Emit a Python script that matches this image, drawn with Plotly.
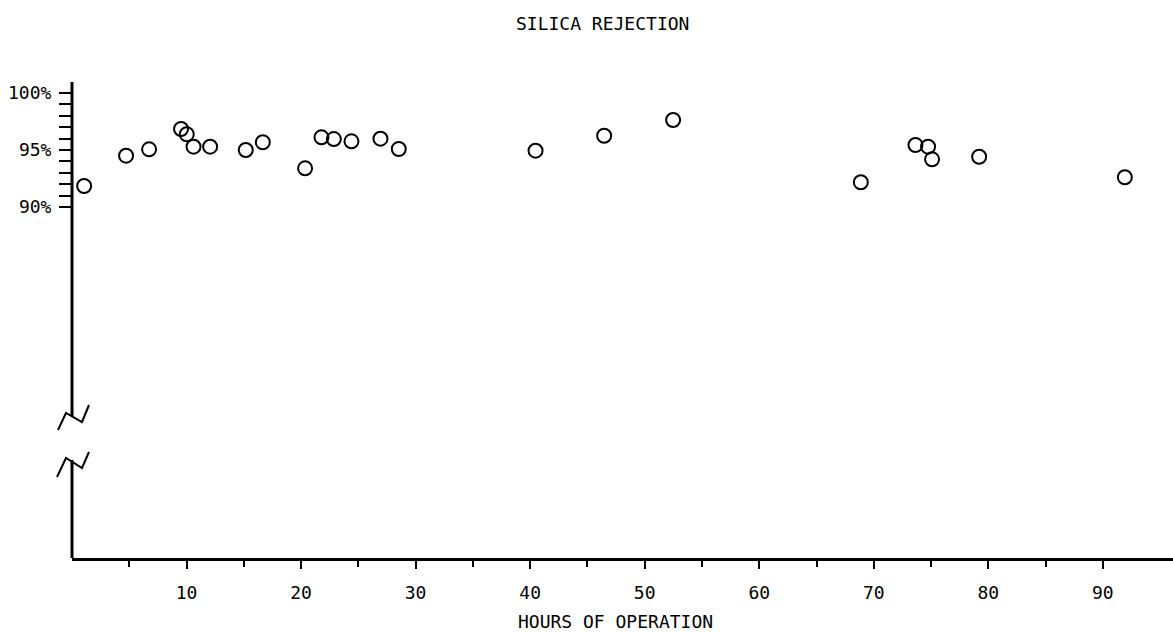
import plotly.graph_objects as go

# ---- data ----
hours = [1.06, 4.72, 6.73, 9.52, 10.02, 10.61, 12.06, 15.17, 16.66, 20.35,
         21.78, 22.86, 24.40, 26.93, 28.53, 40.47, 46.46, 52.48, 68.87, 73.64,
         74.74, 75.09, 79.20, 91.92]
rejection = [91.84, 94.50, 95.06, 96.84, 96.38, 95.29, 95.29, 95.00, 95.68, 93.39,
             96.11, 95.96, 95.76, 95.99, 95.09, 94.94, 96.25, 97.63, 92.17, 95.44,
             95.29, 94.18, 94.41, 92.61]

x_tick_vals = [10, 20, 30, 40, 50, 60, 70, 80, 90]
x_tick_text = ["10", "20", "30", "40", "50", "60", "70", "80", "90"]
x_minor_vals = [5, 15, 25, 35, 45, 55, 65, 75, 85]
y_tick_vals = [90, 91, 92, 93, 94, 95, 96, 97, 98, 99, 100]
y_tick_text = ["90%", "", "", "", "", "95%", "", "", "", "", "100%"]

FONT = "DejaVu Sans Mono"
W, H = 1173, 632
ML, MR, MT, MB = 72, 0, 82, 632 - 558
PW, PH = W - ML - MR, H - MT - MB

def px(xp):
    return (xp - ML) / PW

def py(yp):
    return (H - MB - yp) / PH

fig = go.Figure()
fig.add_trace(go.Scatter(
    x=hours, y=rejection, mode="markers",
    marker=dict(symbol="circle-open", size=14, color="black", line=dict(width=2, color="black")),
    showlegend=False, hoverinfo="skip",
))

# broken y axis line and break marks (decoration)
line_style = dict(color="black", width=3)
fig.add_shape(type="line", xref="paper", yref="paper", x0=0, x1=0, y0=py(416), y1=1.0, line=line_style)
fig.add_shape(type="line", xref="paper", yref="paper", x0=0, x1=0, y0=0, y1=py(460), line=line_style)
for pts in ([(58, 430), (66, 413), (82, 422), (89, 405)],
            [(57, 477), (66, 458), (82, 468), (89, 452)]):
    path = "M " + " L ".join(f"{px(a):.5f},{py(b):.5f}" for a, b in pts)
    fig.add_shape(type="path", xref="paper", yref="paper", path=path,
                  line=dict(color="black", width=2))

fig.add_annotation(text="SILICA REJECTION", xref="paper", yref="paper",
                   x=px(602), y=py(23), xanchor="center", yanchor="middle",
                   showarrow=False, font=dict(family=FONT, size=18, color="black"))
fig.add_annotation(text="HOURS OF OPERATION", xref="paper", yref="paper",
                   x=px(615), y=py(621), xanchor="center", yanchor="middle",
                   showarrow=False, font=dict(family=FONT, size=18, color="black"))

fig.update_layout(
    width=W, height=H, autosize=False,
    margin=dict(l=ML, r=MR, t=MT, b=MB, pad=0),
    paper_bgcolor="white", plot_bgcolor="white",
    font=dict(family=FONT, size=18, color="black"),
    xaxis=dict(range=[0, PW / 11.454], showgrid=False, zeroline=False,
               showline=True, linecolor="black", linewidth=3,
               tickmode="array", tickvals=x_tick_vals, ticktext=x_tick_text,
               ticks="outside", ticklen=8, tickwidth=2, tickcolor="black",
               ticklabelstandoff=8,
               minor=dict(tickmode="array", tickvals=x_minor_vals, ticks="outside",
                          ticklen=6, tickwidth=2, tickcolor="black", showgrid=False),
               tickfont=dict(family=FONT, size=18, color="black")),
    yaxis=dict(range=[100 + (93 - MT) / 11.4 - PH / 11.4, 100 + (93 - MT) / 11.4],
               showgrid=False, zeroline=False, showline=False,
               tickmode="array", tickvals=y_tick_vals, ticktext=y_tick_text,
               ticks="outside", ticklen=12, tickwidth=2, tickcolor="black",
               ticklabelstandoff=4,
               tickfont=dict(family=FONT, size=18, color="black")),
)

fig.write_html("out.html",
               config={"displayModeBar": False},
               post_script="document.body.style.margin='0';document.body.style.overflow='hidden';")
